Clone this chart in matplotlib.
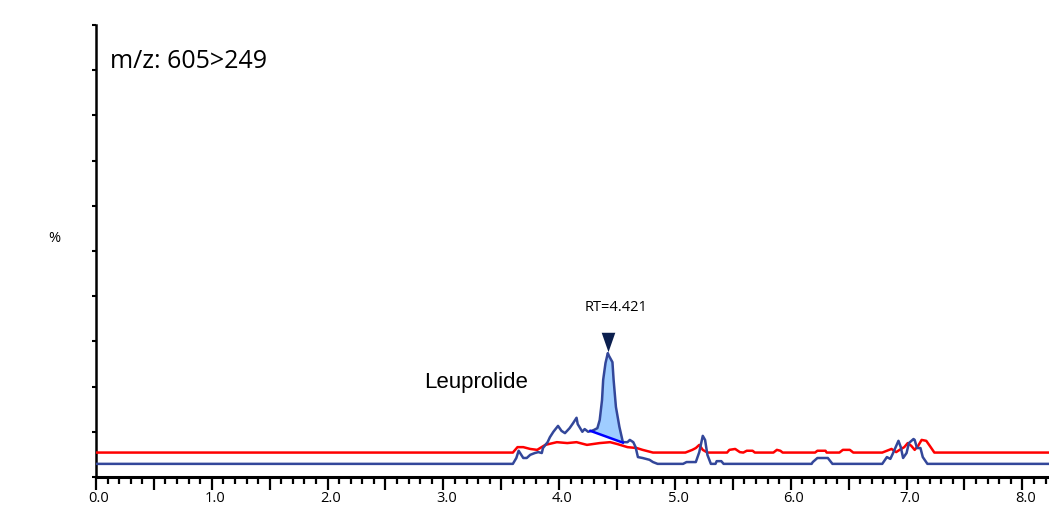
import numpy as np
import matplotlib
matplotlib.use("Agg")
import matplotlib.pyplot as plt
from matplotlib.ticker import MultipleLocator, FuncFormatter
import matplotlib.transforms as mtransforms

# blue trace: sample chromatogram (time in min, intensity in %)
blue_t = [0.00, 3.60, 3.63, 3.65, 3.69, 3.72, 3.75, 3.79, 3.82, 3.85, 3.86, 3.90,
          3.92, 3.95, 3.99, 4.02, 4.05, 4.09, 4.12, 4.15, 4.16, 4.20, 4.22, 4.25,
          4.28, 4.30, 4.33, 4.35, 4.37, 4.38, 4.40, 4.42, 4.43, 4.46, 4.47, 4.49,
          4.52, 4.55, 4.59, 4.61, 4.64, 4.66, 4.68, 4.72, 4.78, 4.81, 4.85, 5.07,
          5.10, 5.18, 5.21, 5.24, 5.26, 5.28, 5.31, 5.35, 5.36, 5.40, 5.42, 6.18,
          6.19, 6.23, 6.32, 6.36, 6.79, 6.83, 6.86, 6.88, 6.93, 6.95, 6.97, 7.00,
          7.02, 7.06, 7.07, 7.09, 7.12, 7.14, 7.18, 8.23]
blue_i = [2.9, 2.9, 4.2, 5.8, 4.2, 4.2, 4.9, 5.3, 5.5, 5.3, 6.4, 7.7,
          8.8, 10.0, 11.3, 10.2, 9.7, 10.8, 11.9, 13.1, 11.7, 10.0, 10.6, 10.0,
          10.2, 10.4, 10.8, 12.6, 17.0, 21.5, 25.2, 27.4, 26.8, 25.4, 21.5, 15.5,
          11.1, 7.7, 7.7, 8.2, 7.7, 6.6, 4.4, 4.2, 3.8, 3.3, 2.9, 2.9,
          3.3, 3.3, 5.5, 9.1, 8.2, 4.9, 2.9, 2.9, 3.5, 3.5, 2.9, 2.9,
          3.3, 4.2, 4.2, 2.9, 2.9, 4.4, 4.0, 5.1, 8.0, 6.6, 4.2, 5.3,
          7.5, 8.4, 8.2, 6.4, 6.4, 4.4, 2.9, 2.9]

# red trace: blank / reference chromatogram
red_t = [0.00, 3.60, 3.64, 3.69, 3.75, 3.81, 3.88, 3.98, 4.07, 4.15, 4.24, 4.35,
         4.44, 4.50, 4.59, 4.67, 4.72, 4.81, 5.09, 5.15, 5.18, 5.21, 5.24, 5.28,
         5.45, 5.47, 5.52, 5.56, 5.59, 5.62, 5.67, 5.69, 5.85, 5.88, 5.91, 5.93,
         6.21, 6.23, 6.30, 6.31, 6.42, 6.45, 6.51, 6.54, 6.79, 6.83, 6.87, 6.91,
         6.94, 6.98, 7.01, 7.04, 7.07, 7.10, 7.13, 7.17, 7.20, 7.24, 8.23]
red_i = [5.4, 5.4, 6.6, 6.6, 6.2, 6.0, 7.1, 7.7, 7.5, 7.7, 7.1, 7.5,
         7.7, 7.3, 6.6, 6.4, 6.0, 5.4, 5.4, 6.0, 6.4, 7.1, 6.0, 5.4,
         5.4, 6.0, 6.2, 5.5, 5.4, 5.8, 5.8, 5.4, 5.4, 6.0, 5.8, 5.4,
         5.4, 5.8, 5.8, 5.4, 5.4, 6.0, 6.0, 5.4, 5.4, 5.8, 6.2, 5.5,
         6.0, 6.6, 7.5, 6.9, 6.0, 6.9, 8.2, 8.0, 6.9, 5.4, 5.4]

# integrated peak
peak_rt = 4.421
peak_start = [4.27, 10.2]
peak_end = [4.55, 7.6]
marker_y = 29.8

fig = plt.figure(figsize=(10.49, 5.21), dpi=100)
ax = fig.add_axes([0.0915, 0.0845, 0.9085, 0.8676])

ax.plot(red_t, red_i, color="#ff0000", lw=1.8, zorder=3)

# peak area fill between trace and drawn baseline
xs = np.linspace(peak_start[0], peak_end[0], 200)
ys = np.interp(xs, blue_t, blue_i)
base = np.interp(xs, [peak_start[0], peak_end[0]], [peak_start[1], peak_end[1]])
ax.fill_between(xs, base, ys, color="#9fcdff", lw=0, zorder=2)
ax.plot(blue_t, blue_i, color="#33479a", lw=1.8, zorder=4)
ax.plot([peak_start[0], peak_end[0]], [peak_start[1], peak_end[1]],
        color="#0000ff", lw=1.8, zorder=5)

tri = [(-0.7, 1.0), (0.7, 1.0), (0.0, -1.0)]
ax.plot([peak_rt], [marker_y], marker=tri, color="#0b1f4e", ms=14, mew=0, zorder=6)
ax.text(4.223, 37.5, "RT=4.421", ha="left", va="center", fontsize=10.5,
        family="Open Sans")
ax.text(3.28, 21.0, "Leuprolide", ha="center", va="center", fontsize=16,
        family="Liberation Sans")
ax.text(0.12, 92.0, "m/z: 605>249", ha="left", va="center", fontsize=18,
        family="Open Sans")
ax.text(-0.0435, 52.7, "%", transform=ax.get_yaxis_transform(), ha="center",
        va="center", fontsize=10.5, family="Open Sans")

ax.set_xlim(0, 8.23)
ax.set_ylim(0, 100)

for s in ["top", "right"]:
    ax.spines[s].set_visible(False)
ax.spines["left"].set_linewidth(1.8)
ax.spines["bottom"].set_linewidth(2.2)

ax.yaxis.set_major_locator(MultipleLocator(10))
ax.yaxis.set_major_formatter(FuncFormatter(lambda v, p: ""))
ax.tick_params(axis="y", length=3, width=1.5)

ax.xaxis.set_major_locator(MultipleLocator(0.5))
ax.xaxis.set_minor_locator(MultipleLocator(0.1))
ax.xaxis.set_major_formatter(
    FuncFormatter(lambda v, p: f"{v:.1f}" if abs(v - round(v)) < 1e-6 else ""))
ax.tick_params(axis="x", which="major", length=9, width=1.6, pad=1.0, labelsize=10.5)
ax.tick_params(axis="x", which="minor", length=5, width=1.6)
for lab in ax.get_xticklabels():
    lab.set_family("Open Sans")
    lab.set_transform(lab.get_transform() +
                      mtransforms.ScaledTranslation(3 / 100, 0, fig.dpi_scale_trans))

fig.savefig("out.png", dpi=100)
